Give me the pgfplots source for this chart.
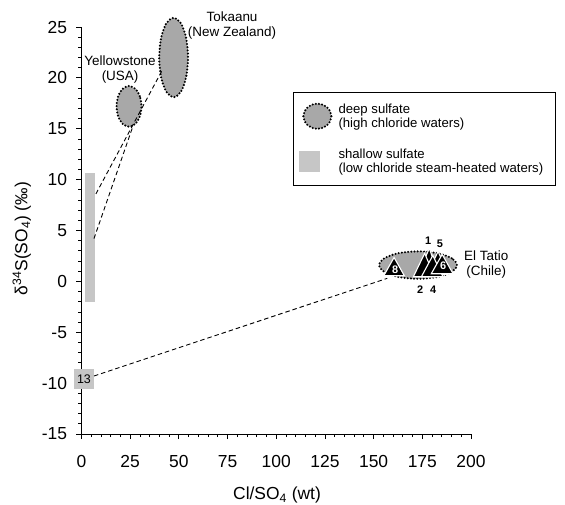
\documentclass[border=0pt]{standalone}
\usepackage{pgfplots}
\pgfplotsset{compat=1.18}
\usepackage{pgfplotstable}
\usepackage{fontspec}
\setmainfont{Liberation Sans}

\definecolor{deepgray}{HTML}{A8A8A8}
\definecolor{shallowgray}{HTML}{C6C6C6}

\tikzset{
  dotborder/.style={draw=black, line width=2.3pt, line cap=round, dash pattern=on 0pt off 3.2pt},
  link/.style={black, line width=0.9pt, dash pattern=on 4.5pt off 3pt},
  tri/.style={fill=black, draw=white, line width=1.1pt, line join=miter},
  annot/.style={font=\fontsize{13.5}{15}\selectfont, align=center, text=black},
  idx/.style={font=\fontsize{11}{12}\selectfont\bfseries, inner sep=0pt},
}

% outlines of the deep (high chloride) fields
\pgfplotstableread{
x y
30.8 17.2
29.94 18.2
27.6 18.93
24.4 19.2
21.2 18.93
18.86 18.2
18.0 17.2
18.86 16.2
21.2 15.47
24.4 15.2
27.6 15.47
29.94 16.2
}\yellowstone

\pgfplotstableread{
x y
54.7 22.0
53.71 23.95
51.0 25.38
47.3 25.9
43.6 25.38
40.89 23.95
39.9 22.0
40.89 20.05
43.6 18.62
47.3 18.1
51.0 18.62
53.71 20.05
}\tokaanu

\pgfplotstableread{
x y
192.8 1.6
190.12 2.275
182.8 2.77
172.8 2.95
162.8 2.77
155.48 2.275
152.8 1.6
155.48 0.925
162.8 0.43
172.8 0.25
182.8 0.43
190.12 0.925
}\eltatio

\begin{document}
\begin{tikzpicture}
\begin{axis}[
  scale only axis,
  width=389.5bp, height=407bp,
  xmin=0, xmax=200, ymin=-15, ymax=25,
  clip=false,
  axis x line*=bottom, axis y line*=left,
  axis line style={-, line width=1pt, black},
  xtick={0,25,...,200}, ytick={-15,-10,...,25},
  minor x tick num=4, minor y tick num=4,
  tick align=outside,
  major tick length=5bp, minor tick length=3bp,
  tick style={black, line width=0.8pt},
  /pgf/number format/assume math mode=true,
  ticklabel style={font=\fontsize{17.5}{20}\selectfont},
  xticklabel style={yshift=-13bp},
  yticklabel style={xshift=-6bp},
  xlabel={Cl/SO\textsubscript{4} (wt)},
  ylabel={δ\textsuperscript{34}S(SO\textsubscript{4}) (‰)},
  every axis x label/.style={at={(axis description cs:0.502,-0.15)}, anchor=center,
    font=\fontsize{17.5}{20}\selectfont},
  every axis y label/.style={at={(axis description cs:-0.153,0.48)}, rotate=90, anchor=center,
    font=\fontsize{17.5}{20}\selectfont},
  legend style={at={(0.543,0.84)}, anchor=north west, draw=black, line width=0.8pt,
    font=\fontsize{13.2}{14.5}\selectfont, inner xsep=6bp, inner ysep=9bp,
    cells={anchor=west, align=left}, row sep=16bp,
    nodes={inner xsep=6bp}},
]

% legend entries
\addlegendimage{legend image code/.code={
  \draw[dotborder, fill=deepgray] (16bp,0) ellipse [x radius=14bp, y radius=12.5bp];}}
\addlegendentry{deep sulfate\\(high chloride waters)}
\addlegendimage{legend image code/.code={
  \fill[shallowgray] (6bp,-10bp) rectangle (26bp,10bp);}}
\addlegendentry{shallow sulfate\\(low chloride steam-heated waters)}

% shallow sulfate fields
\addplot[fill=shallowgray, draw=none, forget plot] coordinates {(2,-2) (7,-2) (7,10.7) (2,10.7)} -- cycle;
\addplot[fill=shallowgray, draw=none, forget plot] coordinates {(-3.9,-10.6) (6.4,-10.6) (6.4,-8.6) (-3.9,-8.6)} -- cycle;

% deep sulfate fields
\addplot[dotborder, fill=deepgray, smooth cycle, forget plot] table {\yellowstone};
\addplot[dotborder, fill=deepgray, smooth cycle, forget plot] table {\tokaanu};
\addplot[dotborder, fill=deepgray, smooth cycle, forget plot] table {\eltatio};

% mixing lines
\addplot[link, forget plot] coordinates {(7.4,8.6) (41.3,20.7)};
\addplot[link, forget plot] coordinates {(6.4,4.2) (26.5,15.3)};
\addplot[link, forget plot] coordinates {(6.4,-9.3) (157,0.3)};

% El Tatio samples
\addplot[tri, forget plot] coordinates {(155.2,0.55) (165.8,0.55) (160.5,2.35)} -- cycle;
\addplot[tri, forget plot] coordinates {(172.6,0.6) (183.4,0.6) (178.6,3.25)} -- cycle;
\addplot[tri, forget plot] coordinates {(177.6,0.7) (188.2,0.7) (183.1,2.95)} -- cycle;
\addplot[tri, forget plot] coordinates {(170.4,0.45) (181.4,0.45) (176.2,2.75)} -- cycle;
\addplot[tri, forget plot] coordinates {(174.5,0.45) (185.6,0.45) (180.4,2.55)} -- cycle;
\addplot[tri, forget plot] coordinates {(179.6,0.75) (190.8,0.75) (185.2,2.65)} -- cycle;

\node[idx, text=white] at (axis cs:161.0,1.1) {8};
\node[idx, text=white] at (axis cs:185.7,1.55) {6};
\node[idx] at (axis cs:178.0,4.0) {1};
\node[idx] at (axis cs:184.1,3.7) {5};
\node[idx] at (axis cs:173.9,-0.8) {2};
\node[idx] at (axis cs:180.6,-0.8) {4};
\node[font=\fontsize{12.5}{14}\selectfont] at (axis cs:1.25,-9.6) {13};

% field names
\node[annot] at (axis cs:19.8,20.8) {Yellowstone\\(USA)};
\node[annot] at (axis cs:77.3,25.1) {Tokaanu\\(New Zealand)};
\node[annot] at (axis cs:207.8,1.65) {El Tatio\\(Chile)};

\coordinate (o) at (rel axis cs:0,0);
\end{axis}
\pgfresetboundingbox
\path[use as bounding box] ([shift={(-81.5bp,-71bp)}]o) rectangle ([shift={(483.5bp,434bp)}]o);
\end{tikzpicture}
\end{document}
